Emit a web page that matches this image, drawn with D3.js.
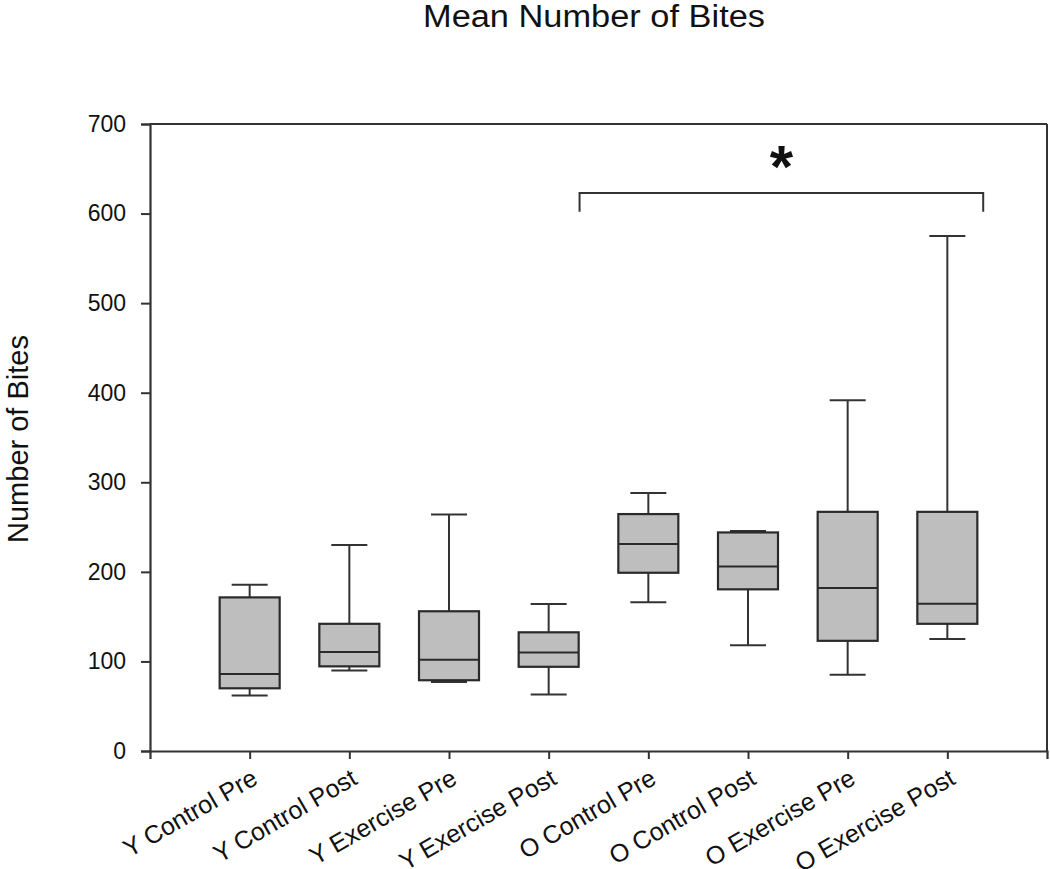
<!DOCTYPE html>
<html>
<head>
<meta charset="utf-8">
<script src="https://cdn.jsdelivr.net/npm/d3@7"></script>
<style>
  html, body { margin: 0; padding: 0; background: #fff; }
  svg { display: block; font-family: "Liberation Sans", Arial, sans-serif; }
</style>
</head>
<body>
<svg id="chart" width="1050" height="869"></svg>
<script>
const categories = ["Y Control Pre", "Y Control Post", "Y Exercise Pre", "Y Exercise Post",
                    "O Control Pre", "O Control Post", "O Exercise Pre", "O Exercise Post"];
const whiskerLow  = [62, 90, 77, 63, 166, 118, 85, 125];
const q1          = [70, 94.5, 79, 94, 199, 180.5, 123, 142];
const median      = [86, 110.5, 102, 110, 231, 206, 182, 164.5];
const q3          = [171.5, 142, 156, 132.5, 264.5, 244, 267, 267];
const whiskerHigh = [185.5, 230, 264, 164, 288, 245.5, 391.5, 575];
const yTicks = [0, 100, 200, 300, 400, 500, 600, 700];
// significance bracket: from / to in category-position units, height, and drop
const bracket = { x1: 4.31, x2: 8.36, y: 623, yEnd: 602, label: "*" };

(function () {
const svg = d3.select("#chart");
const pLeft = 150, pRight = 1047, pTop = 124, pBottom = 751;
const x = d3.scaleLinear().domain([0, 9]).range([pLeft, pRight]);
const y = d3.scaleLinear().domain([0, 700]).range([pBottom, pTop]);
const ink = "#333";

const data = categories.map((c, i) => ({
  c, pos: i + 1, lo: whiskerLow[i], q1: q1[i], med: median[i], q3: q3[i], hi: whiskerHigh[i]
}));

// frame (top and right)
svg.append("line").attr("x1", pLeft).attr("x2", pRight).attr("y1", pTop).attr("y2", pTop)
  .attr("stroke", ink).attr("stroke-width", 2);
svg.append("line").attr("x1", pRight).attr("x2", pRight).attr("y1", pTop).attr("y2", pBottom)
  .attr("stroke", ink).attr("stroke-width", 2);

// y axis
const yAxis = svg.append("g").attr("transform", `translate(${pLeft},0)`)
  .call(d3.axisLeft(y).tickValues(yTicks).tickSize(9).tickPadding(15).tickFormat(d3.format("d")));
yAxis.select(".domain").attr("stroke", ink).attr("stroke-width", 2.2);
yAxis.selectAll(".tick line").attr("stroke", ink).attr("stroke-width", 2);
yAxis.selectAll(".tick text").attr("font-size", 23).attr("fill", "#111")
  .attr("font-family", "Liberation Sans, Arial, sans-serif");

// x axis
const xAxis = svg.append("g").attr("transform", `translate(0,${pBottom})`)
  .call(d3.axisBottom(x).tickValues(data.map(d => d.pos)).tickSize(8).tickFormat((d) => categories[d - 1]));
xAxis.select(".domain").attr("stroke", ink).attr("stroke-width", 2.2);
xAxis.selectAll(".tick line").attr("stroke", ink).attr("stroke-width", 2);
xAxis.selectAll(".tick text")
  .attr("font-size", 25).attr("fill", "#111")
  .attr("font-family", "Liberation Sans, Arial, sans-serif")
  .attr("text-anchor", "end")
  .attr("dy", null)
  .attr("y", 0)
  .attr("transform", "translate(9,32) rotate(-30)");

// boxes
const boxW = 60, capW = 36;
const g = svg.append("g");
const b = g.selectAll("g.box").data(data).join("g").attr("class", "box");
b.append("line").attr("x1", d => x(d.pos)).attr("x2", d => x(d.pos))
  .attr("y1", d => y(d.q3)).attr("y2", d => y(d.hi)).attr("stroke", ink).attr("stroke-width", 2);
b.append("line").attr("x1", d => x(d.pos)).attr("x2", d => x(d.pos))
  .attr("y1", d => y(d.q1)).attr("y2", d => y(d.lo)).attr("stroke", ink).attr("stroke-width", 2);
b.append("line").attr("x1", d => x(d.pos) - capW / 2).attr("x2", d => x(d.pos) + capW / 2)
  .attr("y1", d => y(d.hi)).attr("y2", d => y(d.hi)).attr("stroke", ink).attr("stroke-width", 2);
b.append("line").attr("x1", d => x(d.pos) - capW / 2).attr("x2", d => x(d.pos) + capW / 2)
  .attr("y1", d => y(d.lo)).attr("y2", d => y(d.lo)).attr("stroke", ink).attr("stroke-width", 2);
b.append("rect").attr("x", d => x(d.pos) - boxW / 2).attr("width", boxW)
  .attr("y", d => y(d.q3)).attr("height", d => y(d.q1) - y(d.q3))
  .attr("fill", "#bebebe").attr("stroke", "#2a2a2a").attr("stroke-width", 2.2);
b.append("line").attr("x1", d => x(d.pos) - boxW / 2).attr("x2", d => x(d.pos) + boxW / 2)
  .attr("y1", d => y(d.med)).attr("y2", d => y(d.med)).attr("stroke", "#2a2a2a").attr("stroke-width", 2);

// significance bracket
svg.append("path")
  .attr("d", `M${x(bracket.x1)},${y(bracket.yEnd)} V${y(bracket.y)} H${x(bracket.x2)} V${y(bracket.yEnd)}`)
  .attr("fill", "none").attr("stroke", ink).attr("stroke-width", 2);
svg.append("text")
  .attr("x", (x(bracket.x1) + x(bracket.x2)) / 2)
  .attr("y", 187)
  .attr("text-anchor", "middle")
  .attr("font-size", 60).attr("font-weight", "bold").attr("fill", "#111")
  .text(bracket.label);

// title
svg.append("text").attr("x", 594).attr("y", 27).attr("text-anchor", "middle")
  .attr("font-size", 31).attr("fill", "#111")
  .attr("textLength", 342).attr("lengthAdjust", "spacingAndGlyphs")
  .text("Mean Number of Bites");

// y label
svg.append("text").attr("transform", "translate(28,439) rotate(-90)")
  .attr("text-anchor", "middle").attr("font-size", 29).attr("fill", "#111")
  .text("Number of Bites");
})();
</script>
</body>
</html>
